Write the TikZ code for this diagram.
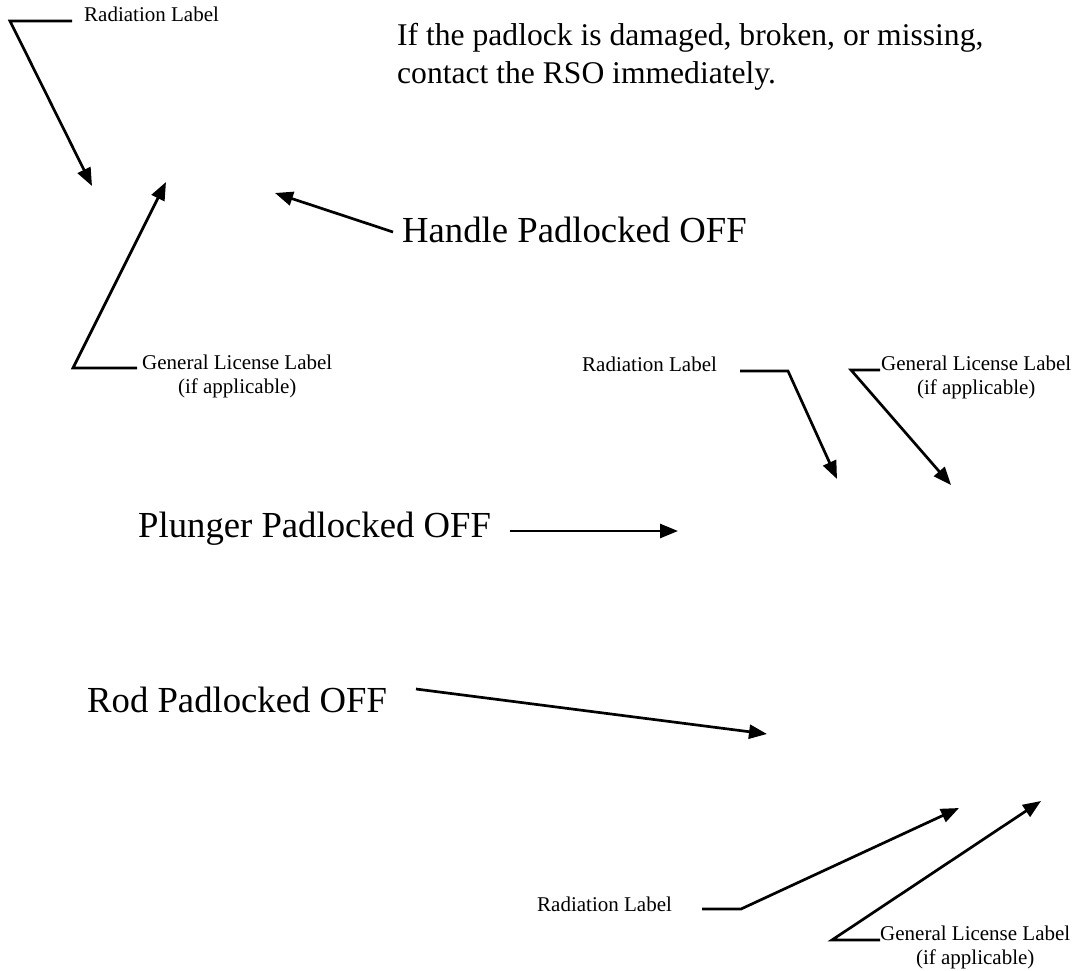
\documentclass[tikz,border=0pt]{standalone}
\usepackage{fontspec}
\setmainfont{Liberation Serif}
\usetikzlibrary{arrows.meta}

\begin{document}
\begin{tikzpicture}[
		x=1pt, y=-1pt,
		every node/.style={inner sep=0pt, anchor=base west},
		tag/.style={font=\fontsize{21}{24}\selectfont, align=center},
		title/.style={font=\fontsize{36.7}{42}\selectfont},
		note/.style={font=\fontsize{31.6}{38}\selectfont, align=left},
		pointer/.style={line width=2.7pt, -{Triangle[length=18pt, width=14pt]}}
	]
  \useasboundingbox (0, 0) rectangle (1077, 970);
  % texts (base = last line)
  \node (note) [note] at (397, 83) {If the padlock is damaged, broken, or missing,\\contact the RSO immediately.};
  \node (handle) [title] at (402, 242) {Handle Padlocked OFF};
  \node (plunger) [title] at (138, 537) {Plunger Padlocked OFF};
  \node (rod) [title] at (87, 712) {Rod Padlocked OFF};
  \node (rad_1) [tag] at (84, 21) {Radiation Label};
  \node (gen_1) [tag] at (142, 393) {General License Label\\(if applicable)};
  \node (rad_2) [tag] at (582, 371) {Radiation Label};
  \node (gen_2) [tag] at (881, 394) {General License Label\\(if applicable)};
  \node (rad_3) [tag] at (537, 911) {Radiation Label};
  \node (gen_3) [tag] at (880, 964) {General License Label\\(if applicable)};
  % leader ends
  \coordinate (rad_1_s) at (72, 21);
  \coordinate (rad_1_k) at (10, 21);
  \coordinate (rad_1_t) at (92, 186);
  \coordinate (gen_1_s) at (137, 368);
  \coordinate (gen_1_k) at (73, 368);
  \coordinate (gen_1_t) at (166, 182);
  \coordinate (handle_s) at (393, 232);
  \coordinate (handle_t) at (275, 193);
  \coordinate (rad_2_s) at (740, 371);
  \coordinate (rad_2_k) at (788, 371);
  \coordinate (rad_2_t) at (837, 479);
  \coordinate (gen_2_s) at (880, 370);
  \coordinate (gen_2_k) at (851, 370);
  \coordinate (gen_2_t) at (951, 485);
  \coordinate (plunger_s) at (510, 531);
  \coordinate (plunger_t) at (678, 531);
  \coordinate (rod_s) at (416, 689);
  \coordinate (rod_t) at (767, 734);
  \coordinate (rad_3_s) at (702, 909);
  \coordinate (rad_3_k) at (741, 909);
  \coordinate (rad_3_t) at (959, 808);
  \coordinate (gen_3_s) at (880, 940);
  \coordinate (gen_3_k) at (832, 940);
  \coordinate (gen_3_t) at (1041, 801);
  % arrows
  \draw [pointer] (rad_1_s) -- (rad_1_k) -- (rad_1_t);
  \draw [pointer] (gen_1_s) -- (gen_1_k) -- (gen_1_t);
  \draw [pointer] (handle_s) -- (handle_t);
  \draw [pointer] (rad_2_s) -- (rad_2_k) -- (rad_2_t);
  \draw [pointer] (gen_2_s) -- (gen_2_k) -- (gen_2_t);
  \draw [pointer] (plunger_s) -- (plunger_t);
  \draw [pointer] (rod_s) -- (rod_t);
  \draw [pointer] (rad_3_s) -- (rad_3_k) -- (rad_3_t);
  \draw [pointer] (gen_3_s) -- (gen_3_k) -- (gen_3_t);
\end{tikzpicture}
\end{document}
